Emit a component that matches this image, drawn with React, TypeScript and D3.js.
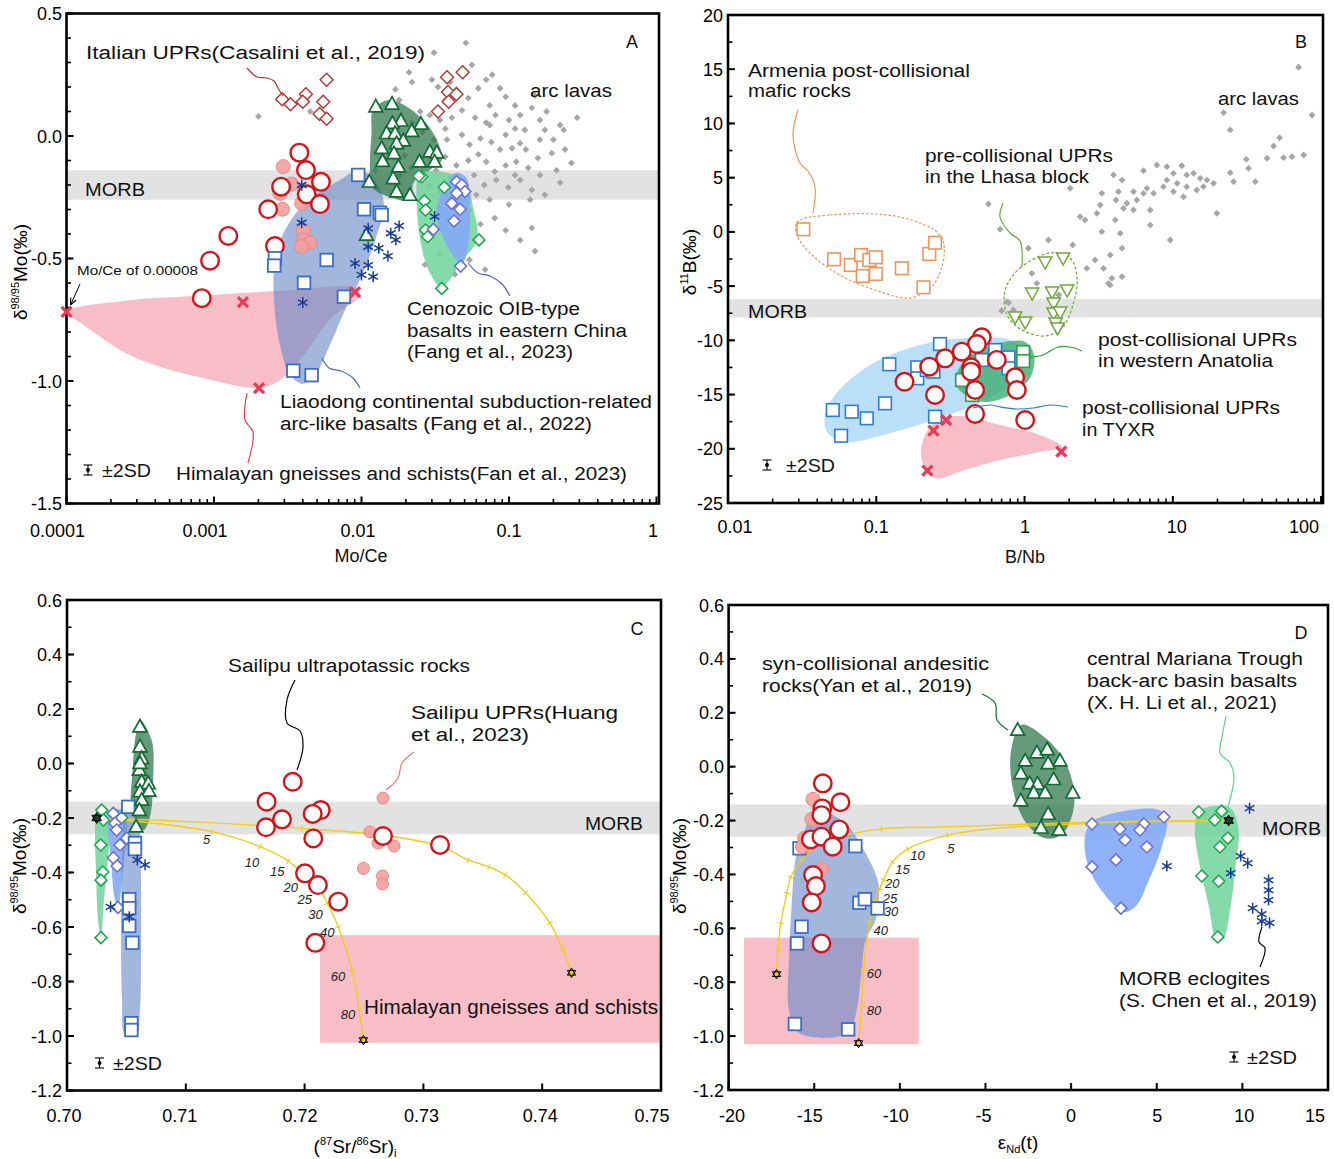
import React from 'react';
import * as d3 from 'd3';

type P = [number, number];
const FONT = "'Liberation Sans', Arimo, Arial, Helvetica, sans-serif";

// ================= Panel A : Mo/Ce vs δ98/95Mo =================
const morbMo: P = [-0.26, -0.14];
const aArcLavas: P[] = [[0.051,0.38],[0.031,0.34],[0.056,0.29],[0.077,0.25],[0.070,0.23],[0.021,0.26],[0.022,0.22],[0.030,0.23],[0.033,0.20],[0.040,0.22],[0.044,0.19],[0.053,0.155],[0.062,0.195],[0.087,0.195],[0.095,0.16],[0.119,0.085],[0.143,0.115],[0.162,0.065],[0.18,0.10],[0.29,0.075],[0.222,0.045],[0.175,0.025],[0.128,0.025],[0.10,0.065],[0.081,0.085],[0.07,0.055],[0.059,0.075],[0.048,0.105],[0.041,0.075],[0.037,0.03],[0.034,0.065],[0.029,0.085],[0.025,0.10],[0.022,0.055],[0.026,0.015],[0.031,-0.015],[0.038,-0.015],[0.048,0.005],[0.054,-0.035],[0.064,-0.01],[0.076,-0.025],[0.087,-0.055],[0.105,-0.05],[0.13,-0.055],[0.157,-0.09],[0.195,-0.07],[0.24,-0.055],[0.265,-0.11],[0.21,-0.14],[0.162,-0.16],[0.135,-0.13],[0.112,-0.105],[0.095,-0.12],[0.08,-0.145],[0.07,-0.105],[0.062,-0.075],[0.053,-0.10],[0.044,-0.12],[0.037,-0.085],[0.032,-0.14],[0.04,-0.17],[0.048,-0.19],[0.058,-0.16],[0.068,-0.20],[0.082,-0.18],[0.099,-0.21],[0.119,-0.18],[0.143,-0.22],[0.175,-0.24],[0.222,-0.19],[0.06,-0.24],[0.074,-0.26],[0.10,-0.28],[0.139,-0.26],[0.08,-0.335],[0.095,-0.385],[0.119,-0.425],[0.15,-0.47],[0.143,-0.375],[0.034,-0.485],[0.027,-0.525],[0.054,-0.505],[0.069,-0.545],[0.043,-0.565],[0.002,0.08],[0.0045,0.10],[0.0145,-0.10],[0.0124,-0.14],[0.018,0.147],[0.017,0.19],[0.037,0.147],[0.119,-0.03],[0.11,-0.16],[0.162,-0.015],[0.0196,-0.08],[0.0182,-0.16],[0.0218,-0.13],[0.029,-0.205],[0.034,-0.23],[0.041,-0.245],[0.054,-0.30],[0.064,-0.36],[0.074,0.045],[0.095,0.005],[0.11,0.03],[0.2,-0.015],[0.235,0.025],[0.11,0.125],[0.074,0.125],[0.15,0.165]];
const aItalian: P[] = [[0.0058,0.23],[0.0029,0.15],[0.0033,0.13],[0.0042,0.17],[0.0040,0.14],[0.0055,0.14],[0.0052,0.09],[0.0058,0.07],[0.0485,0.26],[0.038,0.24],[0.0386,0.18],[0.044,0.17],[0.039,0.14],[0.033,0.10]];
const aSailipu: P[] = [[0.00379,-0.068],[0.0042,-0.139],[0.00531,-0.187],[0.00285,-0.207],[0.00425,-0.238],[0.00523,-0.278],[0.00233,-0.299],[0.00259,-0.449],[0.00125,-0.408],[0.00094,-0.509],[0.000826,-0.662]];
const aSailipuHuang: P[] = [[0.00295,-0.125],[0.00336,-0.196],[0.0028,-0.234],[0.00291,-0.299],[0.00393,-0.275],[0.00404,-0.384],[0.00404,-0.424],[0.00448,-0.436],[0.00393,-0.452]];
const aLiaodong: P[] = [[0.0095,-0.159],[0.0104,-0.299],[0.0133,-0.313],[0.0137,-0.322],[0.00259,-0.499],[0.00256,-0.529],[0.00581,-0.506],[0.00408,-0.599],[0.00345,-0.958],[0.00459,-0.976],[0.0076,-0.656]];
const aLiaodongField: P[] = [[0.00714,-0.180],[0.00977,-0.139],[0.0129,-0.200],[0.0142,-0.282],[0.0124,-0.424],[0.0101,-0.567],[0.00773,-0.710],[0.00611,-0.853],[0.00484,-0.976],[0.00401,-1.012],[0.00328,-0.976],[0.0028,-0.853],[0.00255,-0.669],[0.00259,-0.506],[0.00303,-0.384],[0.00414,-0.273]];
const aHimalaya: P[] = [[0.0001,-0.718],[0.00157,-0.678],[0.00202,-1.029],[0.00904,-0.637]];
const aHimalayaField: P[] = [[0.0001,-0.718],[0.00025,-0.672],[0.0008,-0.652],[0.0028,-0.632],[0.0092,-0.620],[0.0098,-0.650],[0.0062,-0.745],[0.0040,-0.90],[0.0029,-0.99],[0.0021,-1.028],[0.0008,-0.985],[0.00028,-0.90],[0.00013,-0.77]];
const aSynColl: P[] = [[0.0125,0.120],[0.0161,0.131],[0.0185,0.062],[0.0162,0.052],[0.0253,0.049],[0.0219,0.020],[0.0148,0.011],[0.0169,0.011],[0.0192,-0.019],[0.0173,-0.030],[0.0137,-0.050],[0.0166,-0.071],[0.0291,-0.064],[0.0324,-0.068],[0.0139,-0.103],[0.0178,-0.125],[0.0247,-0.105],[0.0313,-0.105],[0.0164,-0.173],[0.0113,-0.187],[0.0173,-0.227],[0.0213,-0.241],[0.0108,-0.404]];
const aSynCollField: P[] = [[0.0120,0.106],[0.0155,0.147],[0.0251,0.078],[0.0324,-0.016],[0.0350,-0.098],[0.0291,-0.139],[0.0227,-0.188],[0.0213,-0.261],[0.0163,-0.253],[0.0117,-0.207],[0.0114,-0.125],[0.0117,0.012]];
const aMariana: P[] = [[0.0256,-0.166],[0.0245,-0.163],[0.0364,-0.209],[0.0267,-0.265],[0.0272,-0.302],[0.0272,-0.384],[0.0281,-0.411],[0.0626,-0.424],[0.035,-0.622]];
const aMarianaField: P[] = [[0.025,-0.151],[0.0357,-0.147],[0.0503,-0.180],[0.057,-0.290],[0.0607,-0.424],[0.0485,-0.506],[0.035,-0.616],[0.0291,-0.559],[0.025,-0.424],[0.0238,-0.180]];
const aOIB: P[] = [[0.0442,-0.187],[0.0478,-0.200],[0.0503,-0.227],[0.0442,-0.234],[0.0409,-0.275],[0.0466,-0.299],[0.0424,-0.347],[0.0307,-0.381],[0.047,-0.531]];
const aOIBField: P[] = [[0.0434,-0.151],[0.0515,-0.171],[0.0544,-0.314],[0.0527,-0.453],[0.0485,-0.518],[0.0442,-0.506],[0.034,-0.384],[0.0324,-0.290],[0.0368,-0.208]];
const aEclogite: P[] = [[0.0111,-0.377],[0.0158,-0.397],[0.0180,-0.367],[0.0171,-0.424],[0.0111,-0.452],[0.0131,-0.458],[0.0151,-0.490],[0.00904,-0.520],[0.0111,-0.527],[0.0100,-0.567],[0.0120,-0.574],[0.0313,-0.329],[0.00393,-0.200],[0.00393,-0.354],[0.0040,-0.680]];

// ================= Panel B : B/Nb vs δ11B =================
const morbB: P = [-7.9, -6.2];
const bArcLavas: P[] = [[70.5,15.18],[22.0,10.99],[86.9,10.78],[24.4,9.4],[52.5,8.68],[47.8,7.92],[76.2,7.09],[63.6,6.93],[55.8,6.84],[43.2,6.79],[31.3,6.69],[32.4,5.86],[24.4,5.46],[25.7,4.63],[36.0,4.63],[7.81,6.17],[9.12,6.01],[11.5,6.10],[6.34,5.64],[10.1,5.40],[12.4,5.25],[13.8,5.40],[15.3,4.94],[17.0,4.78],[18.8,4.48],[16.1,4.17],[14.5,3.86],[12.4,4.17],[10.7,4.48],[9.12,4.78],[8.65,4.17],[10.1,3.71],[11.8,3.24],[6.69,4.02],[5.43,3.71],[6.34,3.56],[7.41,3.56],[3.98,5.25],[4.54,4.78],[3.32,3.56],[4.30,3.71],[4.14,2.94],[4.90,2.64],[5.72,2.94],[7.04,2.02],[5.43,2.02],[4.65,2.17],[3.24,2.48],[3.07,1.71],[2.37,1.40],[2.56,1.10],[4.09,1.10],[4.42,-0.13],[3.32,0.02],[9.6,-0.75],[19.8,1.71],[7.04,0.63],[2.03,4.02],[1.45,-0.75],[1.06,-1.51],[2.11,-1.21],[2.99,-2.59],[3.78,-2.13],[4.54,-1.51],[2.63,-3.36],[3.41,-3.36],[3.88,-4.28],[4.54,-4.13],[3.78,-4.90],[1.12,-3.82],[0.57,2.57],[0.684,0.24],[1.21,-4.74],[1.70,-5.82],[0.76,-6.44],[0.84,-7.20],[3.68,-4.74],[0.78,-6.53],[0.70,-7.27]];
const bArmenia: P[] = [[0.0322,0.24],[0.0519,-2.53],[0.0673,-3.05],[0.0789,-2.13],[0.0898,-2.59],[0.0993,-2.34],[0.0810,-4.07],[0.0993,-3.88],[0.1486,-3.36],[0.228,-2.04],[0.249,-1.00],[0.208,-5.11]];
const bArmeniaField: P[] = [[0.0292,0.91],[0.0488,1.56],[0.1448,1.37],[0.269,-0.29],[0.287,-2.13],[0.242,-4.90],[0.169,-6.10],[0.0982,-5.36],[0.057,-3.98],[0.0357,-1.95],[0.0292,-0.29]];
const bLhasa: P[] = [[1.377,-2.78],[1.82,-2.41],[1.125,-5.64],[1.535,-5.54],[1.937,-5.36],[1.57,-6.56],[0.864,-7.85],[1.01,-8.31],[1.57,-7.48],[1.738,-7.39],[1.62,-8.40],[1.67,-8.86]];
const bLhasaField: P[] = [[0.74,-5.36],[0.933,-3.33],[1.489,-1.95],[2.03,-2.41],[2.26,-4.25],[2.12,-6.74],[1.79,-8.86],[1.377,-9.60],[0.964,-9.05],[0.763,-7.66]];
const bTyxr: P[] = [[0.269,-10.34],[0.1225,-12.21],[0.189,-12.49],[0.189,-13.50],[0.219,-12.74],[0.243,-12.89],[0.1146,-15.81],[0.0509,-16.43],[0.0683,-16.58],[0.0863,-17.19],[0.0579,-18.80],[0.249,-17.04],[0.515,-11.81],[0.634,-10.89],[0.779,-11.57],[0.779,-12.58]];
const bTyxrField: P[] = [[0.0451,-16.89],[0.0527,-15.04],[0.0908,-12.28],[0.197,-10.43],[0.429,-9.79],[0.8,-9.97],[1.01,-11.35],[0.864,-13.66],[0.542,-15.50],[0.269,-17.16],[0.124,-18.55],[0.0616,-19.38],[0.0466,-18.45]];
const bAnatolia: P[] = [[0.979,-11.08],[0.979,-11.91],[0.379,-13.66],[0.443,-15.04]];
const bAnatoliaField: P[] = [[0.356,-12.74],[0.464,-11.08],[0.684,-10.25],[1.01,-10.15],[1.16,-11.35],[1.09,-13.47],[0.8,-15.04],[0.542,-15.69],[0.397,-15.04],[0.34,-13.94]];
const bSailipu: P[] = [[0.515,-9.72],[0.477,-10.34],[0.377,-11.05],[0.291,-11.66],[0.228,-12.43],[0.436,-12.49],[0.436,-12.89],[0.650,-11.81],[0.155,-13.82],[0.464,-14.58],[0.249,-15.04],[0.464,-16.79],[0.864,-13.41],[0.887,-14.58],[1.01,-17.35]];
const bHimalayaField: P[] = [[0.207,-19.19],[0.249,-17.53],[0.367,-16.98],[0.684,-17.81],[1.27,-18.73],[1.79,-19.84],[1.27,-20.30],[0.684,-21.04],[0.397,-21.96],[0.249,-22.70],[0.204,-21.22]];
const bHimalaya: P[] = [[0.243,-18.33],[0.296,-17.35],[0.221,-22.02],[1.77,-20.27]];

// ================= Panel C : (87Sr/86Sr)i vs δ98/95Mo =================
const cHimalayaBox = { x: [0.7213, 0.75], y: [-1.025, -0.63] };
const cMarianaField: P[] = [[0.70253,-0.189],[0.70345,-0.171],[0.70362,-0.226],[0.70345,-0.354],[0.70311,-0.501],[0.70286,-0.640],[0.70261,-0.574],[0.70244,-0.391],[0.70236,-0.262]];
const cMariana: P[] = [[0.70292,-0.171],[0.70306,-0.207],[0.70284,-0.299],[0.70301,-0.398],[0.70286,-0.428],[0.70286,-0.639],[0.7046,-0.199]];
const cOIBField: P[] = [[0.70362,-0.178],[0.70488,-0.171],[0.70505,-0.244],[0.7048,-0.354],[0.70455,-0.464],[0.70429,-0.538],[0.70396,-0.483],[0.7037,-0.354],[0.70345,-0.244]];
const cOIB: P[] = [[0.7039,-0.183],[0.70404,-0.219],[0.70418,-0.244],[0.70503,-0.274],[0.70446,-0.299],[0.7039,-0.346],[0.70423,-0.376],[0.70429,-0.528]];
const cLiaodongField: P[] = [[0.7048,-0.152],[0.70581,-0.134],[0.70614,-0.244],[0.70623,-0.428],[0.70623,-0.684],[0.70614,-0.905],[0.70581,-0.996],[0.70488,-0.996],[0.70463,-0.868],[0.70455,-0.611],[0.70463,-0.354],[0.70471,-0.244]];
const cLiaodong: P[] = [[0.70516,-0.159],[0.70572,-0.292],[0.70572,-0.314],[0.70524,-0.498],[0.70524,-0.531],[0.70524,-0.596],[0.7055,-0.658],[0.70542,-0.953],[0.70542,-0.978]];
const cEclogite: P[] = [[0.70592,-0.354],[0.70657,-0.372],[0.70367,-0.526],[0.70524,-0.562]];
const cSynCollField: P[] = [[0.70614,0.160],[0.70713,0.086],[0.70726,-0.048],[0.70699,-0.195],[0.70642,-0.244],[0.70545,-0.171],[0.70553,-0.024],[0.70581,0.112]];
const cSynColl: P[] = [[0.70614,0.135],[0.70614,0.062],[0.70629,0.019],[0.70609,-0.024],[0.70629,-0.067],[0.70684,-0.073],[0.70614,-0.103],[0.7069,-0.101],[0.70629,-0.134],[0.70609,-0.171],[0.70581,-0.232],[0.70614,0.001]];
const cSailipu: P[] = [[0.719,-0.067],[0.7168,-0.140],[0.7181,-0.205],[0.72136,-0.171],[0.72068,-0.185],[0.71675,-0.234],[0.72073,-0.275],[0.72003,-0.403],[0.72112,-0.446],[0.72283,-0.507],[0.7209,-0.658],[0.7314,-0.299],[0.7266,-0.266]];
const cSailipuHuang: P[] = [[0.7266,-0.127],[0.7255,-0.251],[0.72618,-0.292],[0.72753,-0.303],[0.72495,-0.385],[0.72656,-0.413],[0.72656,-0.442]];
const cMix1: P[] = [[0.7025,-0.200],[0.7112,-0.215],[0.71976,-0.238],[0.72635,-0.262],[0.7314,-0.303],[0.73378,-0.354],[0.7355,-0.379],[0.73689,-0.409],[0.7386,-0.474],[0.74065,-0.586],[0.74174,-0.682],[0.74247,-0.768]];
const cMix1Ticks = [2, 5, 6, 7, 8, 9, 10];
const cMix2: P[] = [[0.7025,-0.200],[0.70699,-0.218],[0.71218,-0.250],[0.71625,-0.305],[0.71863,-0.358],[0.71992,-0.409],[0.72119,-0.458],[0.72192,-0.513],[0.72283,-0.599],[0.72399,-0.758],[0.72458,-0.901],[0.72495,-1.015]];
const cMix2Ticks = [2, 3, 4, 5, 6, 7, 8, 9, 10];
const mixLabels = ['5', '10', '15', '20', '25', '30', '40', '60', '80'];
const cEndStars: P[] = [[0.72495,-1.015],[0.74247,-0.768]];
const cMorbStar: P[] = [[0.7025,-0.200]];

// ================= Panel D : εNd(t) vs δ98/95Mo =================
const dHimalayaBox = { x: [-19.1, -8.9], y: [-1.03, -0.635] };
const dLiaodongField: P[] = [[-14.97,-0.161],[-13.22,-0.209],[-12.0,-0.321],[-11.24,-0.439],[-11.42,-0.569],[-12.0,-0.644],[-12.23,-0.755],[-12.52,-0.903],[-12.99,-0.985],[-14.44,-1.007],[-15.96,-0.985],[-16.48,-0.903],[-16.48,-0.718],[-16.31,-0.506],[-16.07,-0.335],[-15.55,-0.235]];
const dLiaodong: P[] = [[-15.86,-0.303],[-12.60,-0.295],[-15.74,-0.594],[-16.0,-0.656],[-12.36,-0.505],[-12.04,-0.492],[-11.30,-0.526],[-16.13,-0.955],[-13.02,-0.975]];
const dSailipu: P[] = [[-14.50,-0.062],[-13.47,-0.132],[-14.53,-0.155],[-14.58,-0.180],[-13.54,-0.233],[-15.20,-0.270],[-14.58,-0.260],[-13.92,-0.297],[-15.07,-0.402],[-14.90,-0.443],[-15.15,-0.504],[-14.58,-0.656]];
const dSailipuHuang: P[] = [[-15.07,-0.121],[-15.14,-0.195],[-15.56,-0.266],[-15.68,-0.297],[-14.58,-0.381]];
const dSynColl: P[] = [[-3.12,0.136],[-2.0,0.052],[-1.40,0.064],[-2.68,0.022],[-1.34,0.012],[-0.65,0.022],[-2.94,-0.025],[-2.42,-0.062],[-1.96,-0.064],[-1.02,-0.047],[-2.18,-0.097],[-1.51,-0.097],[0.09,-0.097],[-2.94,-0.126],[-1.34,-0.176],[-1.76,-0.227],[-0.70,-0.235]];
const dSynCollField: P[] = [[-2.91,0.155],[-1.57,0.110],[-0.41,0.025],[0.17,-0.087],[0.06,-0.180],[-0.58,-0.254],[-1.57,-0.265],[-2.74,-0.199],[-3.44,-0.068],[-3.50,0.062]];
const dOIBField: P[] = [[1.22,-0.205],[2.80,-0.168],[5.13,-0.161],[5.59,-0.198],[5.24,-0.309],[4.54,-0.421],[3.84,-0.513],[3.09,-0.539],[1.75,-0.458],[0.93,-0.354],[0.82,-0.254]];
const dOIB: P[] = [[1.22,-0.213],[2.85,-0.231],[4.25,-0.213],[4.02,-0.235],[3.15,-0.272],[4.42,-0.298],[5.42,-0.187],[1.22,-0.372],[2.62,-0.346],[2.91,-0.525]];
const dMarianaField: P[] = [[7.45,-0.168],[8.33,-0.146],[9.32,-0.154],[9.78,-0.235],[9.61,-0.365],[9.32,-0.514],[8.85,-0.644],[8.50,-0.644],[8.03,-0.514],[7.45,-0.347],[7.22,-0.235]];
const dMariana: P[] = [[7.45,-0.168],[8.79,-0.165],[8.39,-0.198],[9.15,-0.265],[8.69,-0.298],[7.63,-0.406],[8.62,-0.425],[8.56,-0.632]];
const dEclogite: P[] = [[10.42,-0.154],[5.59,-0.369],[9.90,-0.332],[10.31,-0.358],[9.32,-0.395],[11.53,-0.421],[11.53,-0.458],[11.53,-0.495],[10.6,-0.525],[11.13,-0.547],[11.13,-0.573],[11.59,-0.580]];
const dMixA: P[] = [[9.2,-0.20],[1.63,-0.205],[-4.19,-0.217],[-7.69,-0.224],[-11.07,-0.231],[-13.92,-0.268],[-15.03,-0.302],[-15.73,-0.347],[-16.37,-0.410],[-16.60,-0.469],[-16.95,-0.580],[-17.12,-0.681],[-17.20,-0.770]];
const dMixATicks = [4, 5, 6, 7, 8, 9, 10, 11];
const dMixB: P[] = [[9.2,-0.20],[1.63,-0.209],[-4.19,-0.228],[-7.22,-0.254],[-9.55,-0.306],[-10.43,-0.354],[-10.95,-0.42],[-11.19,-0.454],[-11.42,-0.495],[-11.77,-0.577],[-12.12,-0.755],[-12.23,-0.889],[-12.41,-1.026]];
const dMixBTicks = [3, 4, 5, 6, 7, 8, 9, 10, 11];
const dEndStars: P[] = [[-17.20,-0.770],[-12.41,-1.026]];
const dMorbStar: P[] = [[9.2,-0.20]];

// label offsets (px) of the mixing-percentage labels relative to their tick
const cMixLabelOff: P[] = [[-5,12],[-8,20],[-11,15],[-13,17.5],[-14,16],[-12,16],[-11,10.5],[-14,11],[-11,9.5]];
const dMixLabelOff: P[] = [[3.5,17.5],[10,10.5],[10,11.5],[8.6,8],[10.5,13.8],[15.5,16.2],[11.3,12.5],[10.4,7.8],[12.3,8.5]];

// ================= scales =================
const xA = d3.scaleLog().domain([1e-4, 1.04]).range([66.5, 659]);
const yA = d3.scaleLinear().domain([-1.5, 0.5]).range([503.5, 13.5]);
const xB = d3.scaleLog().domain([0.01, 103]).range([728, 1323]);
const yB = d3.scaleLinear().domain([-25, 20]).range([503, 15]);
const xC = d3.scaleLinear().domain([0.7, 0.75]).range([67, 661]);
const yC = d3.scaleLinear().domain([-1.2, 0.6]).range([1090.5, 600]);
const xD = d3.scaleLinear().domain([-20, 15]).range([728.6, 1328]);
const yD = d3.scaleLinear().domain([-1.2, 0.6]).range([1090, 605]);

const closed = d3.line<[number, number]>().curve(d3.curveCatmullRomClosed.alpha(0.5));
const open = d3.line<[number, number]>().curve(d3.curveCatmullRom.alpha(0.5));

// colours
const RED = '#d3141b';
const BLUE_SQ = '#3d6cc8';
const DK_GREEN = '#0f6b30';
const GREEN_D = '#1aa64a';
const LAV = '#6b6fd0';
const NAVY = '#173c9a';
const XRED = '#ec3a54';
const YEL = '#efcd1a';

function Region({ pts, sx, sy, fill, op = 1, stroke, dash, sw = 1 }: any) {
  const d = closed(pts.map((p: P) => [sx(p[0]), sy(p[1])] as [number, number])) || '';
  return <path d={d} fill={fill} fillOpacity={op} stroke={stroke || 'none'} strokeWidth={sw} strokeDasharray={dash} />;
}

function starPath(x: number, y: number, r: number) {
  const pt = (a: number) => `${x + r * Math.cos((a * Math.PI) / 180)},${y + r * Math.sin((a * Math.PI) / 180)}`;
  return `M${pt(-90)}L${pt(30)}L${pt(150)}ZM${pt(90)}L${pt(210)}L${pt(330)}Z`;
}

function Marks({ pts, sx, sy, kind, c = '#000', f = '#fff', s = 6, w = 1.6, fo = 1 }: any) {
  return (
    <g>
      {pts.map((p: P, i: number) => {
        const x = sx(p[0]);
        const y = sy(p[1]);
        switch (kind) {
          case 'circle':
            return <circle key={i} cx={x} cy={y} r={s} fill={f} fillOpacity={fo} stroke={c} strokeWidth={w} />;
          case 'square':
            return <rect key={i} x={x - s} y={y - s} width={2 * s} height={2 * s} fill={f} stroke={c} strokeWidth={w} />;
          case 'diamond':
            return <path key={i} d={`M${x},${y - s}L${x + s},${y}L${x},${y + s}L${x - s},${y}Z`} fill={f} fillOpacity={fo} stroke={c} strokeWidth={w} />;
          case 'tri':
            return <path key={i} d={`M${x},${y - s}L${x + s * 0.95},${y + s * 0.72}L${x - s * 0.95},${y + s * 0.72}Z`} fill={f} stroke={c} strokeWidth={w} />;
          case 'triDown':
            return <path key={i} d={`M${x},${y + s}L${x + s * 0.95},${y - s * 0.72}L${x - s * 0.95},${y - s * 0.72}Z`} fill={f} stroke={c} strokeWidth={w} />;
          case 'aster':
            return <path key={i} d={`M${x},${y - s}L${x},${y + s}M${x - s * 0.87},${y - s * 0.5}L${x + s * 0.87},${y + s * 0.5}M${x - s * 0.87},${y + s * 0.5}L${x + s * 0.87},${y - s * 0.5}`} stroke={c} strokeWidth={w} fill="none" />;
          case 'cross':
            return <path key={i} d={`M${x - s},${y - s}L${x + s},${y + s}M${x - s},${y + s}L${x + s},${y - s}`} stroke={c} strokeWidth={w} fill="none" />;
          case 'star':
            return <path key={i} d={starPath(x, y, s)} fill={f} stroke={c} strokeWidth={w} strokeLinejoin="round" />;
          default:
            return null;
        }
      })}
    </g>
  );
}

function MixCurve({ pts, sx, sy, ticks, labels, offs }: any) {
  const px: [number, number][] = pts.map((p: P) => [sx(p[0]), sy(p[1])]);
  return (
    <g>
      <path d={open(px) || ''} fill="none" stroke={YEL} strokeWidth={1.4} />
      {ticks.map((i: number, k: number) => {
        const a = px[i - 1], b = px[i + 1], c = px[i];
        const dx = b[0] - a[0], dy = b[1] - a[1];
        const L = Math.hypot(dx, dy) || 1;
        const nx = (-dy / L) * 3, ny = (dx / L) * 3;
        return <line key={k} x1={c[0] - nx} y1={c[1] - ny} x2={c[0] + nx} y2={c[1] + ny} stroke={YEL} strokeWidth={1.2} />;
      })}
      {labels &&
        labels.map((t: string, k: number) => {
          const c = px[ticks[k]];
          return (
            <text key={'l' + k} x={c[0] + offs[k][0]} y={c[1] + offs[k][1]} fontSize={13} fontStyle="italic" textAnchor="middle" fill="#222">
              {t}
            </text>
          );
        })}
    </g>
  );
}

function YAxis({ s, x, majors, minors, fmt, lx }: any) {
  return (
    <g>
      {minors.map((v: number, i: number) => (
        <line key={'n' + i} x1={x} x2={x + 4.5} y1={s(v)} y2={s(v)} stroke="#000" strokeWidth={1.6} />
      ))}
      {majors.map((v: number, i: number) => (
        <line key={'j' + i} x1={x} x2={x + 7} y1={s(v)} y2={s(v)} stroke="#000" strokeWidth={2} />
      ))}
      {majors.map((v: number, i: number) => (
        <text key={'t' + i} x={lx} y={s(v) + 6.5} textAnchor="end" fontSize={18}>
          {fmt(v)}
        </text>
      ))}
    </g>
  );
}

function XAxis({ s, y, majors, minors, labels, dx, ly }: any) {
  return (
    <g>
      {minors.map((v: number, i: number) => (
        <line key={'n' + i} x1={s(v)} x2={s(v)} y1={y} y2={y - 4.5} stroke="#000" strokeWidth={1.6} />
      ))}
      {majors.map((v: number, i: number) => (
        <line key={'j' + i} x1={s(v)} x2={s(v)} y1={y} y2={y - 7} stroke="#000" strokeWidth={2} />
      ))}
      {majors.map((v: number, i: number) => (
        <text key={'t' + i} x={s(v) + dx[i]} y={ly} textAnchor="middle" fontSize={18}>
          {labels[i]}
        </text>
      ))}
    </g>
  );
}

function Frame({ x0, x1, y0, y1 }: any) {
  return <rect x={x0} y={y0} width={x1 - x0} height={y1 - y0} fill="none" stroke="#000" strokeWidth={2.6} />;
}

function Band({ sy, band, x0, x1 }: any) {
  return <rect x={x0} width={x1 - x0} y={sy(band[1])} height={sy(band[0]) - sy(band[1])} fill="#e2e2e2" />;
}

function T({ x, y, w, s = 18, children, anchor = 'start', color = '#111' }: any) {
  return (
    <text x={x} y={y} fontSize={s} textAnchor={anchor} fill={color} textLength={w} lengthAdjust={w ? 'spacingAndGlyphs' : undefined}>
      {children}
    </text>
  );
}

function SD({ x, y }: any) {
  return (
    <g stroke="#000" strokeWidth={1.1}>
      <line x1={x} x2={x} y1={y - 5} y2={y + 5} />
      <line x1={x - 4.5} x2={x + 4.5} y1={y - 5} y2={y - 5} />
      <line x1={x - 4.5} x2={x + 4.5} y1={y + 5} y2={y + 5} />
      <circle cx={x} cy={y} r={1.4} fill="#000" />
    </g>
  );
}

function Leader({ pts, color, w = 1.2 }: any) {
  return <path d={open(pts) || ''} fill="none" stroke={color} strokeWidth={w} />;
}

function MoTitle({ x, y }: any) {
  return (
    <text transform={`translate(${x},${y}) rotate(-90)`} textAnchor="middle" fontSize={19}>
      δ<tspan fontSize={11} dy={-8}>98/95</tspan>
      <tspan dy={8}>Mo(‰)</tspan>
    </text>
  );
}

const logMinors = (decades: number[]) => decades.flatMap((d) => [2, 3, 4, 5, 6, 7, 8, 9].map((m) => d * m));
const tenth = (a: number, b: number) => d3.range(Math.round(a * 10), Math.round(b * 10) + 1).map((i) => i / 10);
const f1 = (v: number) => (Math.abs(v) < 1e-9 ? '0.0' : v.toFixed(1));

function PanelA() {
  const sx = xA, sy = yA;
  return (
    <g>
      <Band sy={sy} band={morbMo} x0={66.5} x1={659} />
      <Marks pts={aArcLavas} sx={sx} sy={sy} kind="diamond" s={3.4} f="#a6a6a6" c="none" w={0} />
      <Region pts={aHimalayaField} sx={sx} sy={sy} fill="#f5a3b0" op={0.7} />
      <Region pts={aLiaodongField} sx={sx} sy={sy} fill="#6a8ac8" op={0.62} />
      <Region pts={aSynCollField} sx={sx} sy={sy} fill="#2a7548" op={0.72} />
      <Region pts={aMarianaField} sx={sx} sy={sy} fill="#6fd39a" op={0.85} />
      <Region pts={aOIBField} sx={sx} sy={sy} fill="#86aaf6" op={0.92} />
      <Frame x0={66.5} x1={659} y0={13.5} y1={503.5} />
      <YAxis s={sy} x={66.5} majors={[-1.5, -1, -0.5, 0, 0.5]} minors={tenth(-1.5, 0.5)} fmt={f1} lx={62} />
      <XAxis s={sx} y={503.5} majors={[1e-4, 1e-3, 1e-2, 1e-1, 1]} minors={logMinors([1e-4, 1e-3, 1e-2, 1e-1])} labels={['0.0001', '0.001', '0.01', '0.1', '1']} dx={[-9, -9, -3.5, 0, -3.5]} ly={537} />
      <Marks pts={aItalian} sx={sx} sy={sy} kind="diamond" s={6.5} c="#b5332e" w={1.4} />
      <Marks pts={aSailipuHuang} sx={sx} sy={sy} kind="circle" s={7} f="#f3a0a0" c="#ec8585" w={1} fo={0.9} />
      <Marks pts={aSailipu} sx={sx} sy={sy} kind="circle" s={8.8} c={RED} w={2.4} />
      <Marks pts={aLiaodong} sx={sx} sy={sy} kind="square" s={6.3} c={BLUE_SQ} w={1.8} />
      <Marks pts={aSynColl} sx={sx} sy={sy} kind="tri" s={7.2} c={DK_GREEN} w={1.7} />
      <Marks pts={aEclogite} sx={sx} sy={sy} kind="aster" s={5.5} c={NAVY} w={1.5} />
      <Marks pts={aMariana} sx={sx} sy={sy} kind="diamond" s={6} c={GREEN_D} w={1.5} />
      <Marks pts={aOIB} sx={sx} sy={sy} kind="diamond" s={6} c={LAV} w={1.5} />
      <Marks pts={aHimalaya} sx={sx} sy={sy} kind="cross" s={5} c={XRED} w={3.3} />
      <Leader pts={[[247, 68], [257, 77], [267, 78], [274, 81], [278, 88], [283, 96]]} color="#b5332e" />
      <Leader pts={[[468, 263], [478, 273], [490, 276], [502, 284], [510, 296]]} color="#5060c8" />
      <Leader pts={[[322, 358], [329, 368], [341, 371], [353, 378], [360, 388]]} color={BLUE_SQ} />
      <Leader pts={[[247, 393], [245, 420], [253, 432], [248, 463]]} color={XRED} />
      <line x1={80} y1={284} x2={70.5} y2={305} stroke="#000" strokeWidth={1} />
      <path d="M70.5,305 L70.8,297.5 M70.5,305 L76,300" stroke="#000" strokeWidth={1.1} fill="none" />
      <T x={86} y={58.5} w={339}>Italian UPRs(Casalini et al., 2019)</T>
      <T x={530} y={96.5} w={82}>arc lavas</T>
      <T x={632} y={48} anchor="middle">A</T>
      <T x={85} y={196} w={60}>MORB</T>
      <T x={77} y={275} s={13} w={121}>Mo/Ce of 0.00008</T>
      <T x={407} y={315} w={173}>Cenozoic OIB-type</T>
      <T x={407} y={336.5} w={220}>basalts in eastern China</T>
      <T x={407} y={358} w={166}>(Fang et al., 2023)</T>
      <T x={280} y={408} w={372}>Liaodong continental subduction-related</T>
      <T x={280} y={430} w={312}>arc-like basalts (Fang et al., 2022)</T>
      <T x={176} y={480} w={451}>Himalayan gneisses and schists(Fan et al., 2023)</T>
      <SD x={88} y={470} />
      <T x={102} y={476.5} w={49}>±2SD</T>
      <T x={361} y={562} anchor="middle" s={18}>Mo/Ce</T>
      <MoTitle x={27} y={272} />
    </g>
  );
}

function PanelB() {
  const sx = xB, sy = yB;
  return (
    <g>
      <Band sy={sy} band={morbB} x0={728} x1={1323} />
      <Marks pts={bArcLavas} sx={sx} sy={sy} kind="diamond" s={3.4} f="#a6a6a6" c="none" w={0} />
      <Region pts={bArmeniaField} sx={sx} sy={sy} fill="none" stroke="#f2935a" dash="2.5,2" sw={1.2} />
      <Region pts={bLhasaField} sx={sx} sy={sy} fill="none" stroke="#6ea83a" dash="3,2" sw={1.2} />
      <Region pts={bTyxrField} sx={sx} sy={sy} fill="#b9dff9" op={1} />
      <Region pts={bAnatoliaField} sx={sx} sy={sy} fill="#3fae76" op={0.8} />
      <Region pts={bHimalayaField} sx={sx} sy={sy} fill="#f5a3b0" op={0.7} />
      <Frame x0={728} x1={1323} y0={15} y1={503} />
      <YAxis s={sy} x={728} majors={d3.range(-25, 21, 5)} minors={d3.range(-25, 20.1, 2.5)} fmt={(v: number) => String(v)} lx={723} />
      <XAxis s={sx} y={503} majors={[0.01, 0.1, 1, 10, 100]} minors={logMinors([0.01, 0.1, 1, 10])} labels={['0.01', '0.1', '1', '10', '100']} dx={[7, 0, 0.5, 4, -17]} ly={533} />
      <Marks pts={bArmenia} sx={sx} sy={sy} kind="square" s={6.3} c="#f2935a" w={1.6} />
      <Marks pts={bLhasa} sx={sx} sy={sy} kind="triDown" s={7} c="#6ea83a" w={1.5} />
      <Marks pts={bTyxr} sx={sx} sy={sy} kind="square" s={6.3} c="#2b7bd8" w={1.6} />
      <Marks pts={bAnatolia} sx={sx} sy={sy} kind="square" s={6.3} c="#2e9e3e" w={1.6} />
      <Marks pts={bSailipu} sx={sx} sy={sy} kind="circle" s={8.8} c={RED} w={2.4} />
      <Marks pts={bHimalaya} sx={sx} sy={sy} kind="cross" s={5} c={XRED} w={3.3} />
      <Leader pts={[[798, 110], [793, 135], [800, 163], [808, 171], [815, 187], [813, 213]]} color="#f2935a" />
      <Leader pts={[[1003, 203], [1000, 217], [1010, 233], [1020, 241], [1022, 266]]} color="#6ea83a" />
      <Leader pts={[[1030, 357], [1043, 355], [1058, 347], [1070, 347], [1082, 351]]} color="#2e9e3e" />
      <Leader pts={[[973, 408], [990, 405], [1000, 407], [1017, 409], [1033, 408], [1050, 405], [1068, 407]]} color="#2b7bd8" />
      <T x={748} y={76.5} w={222}>Armenia post-collisional</T>
      <T x={748} y={97} w={103}>mafic rocks</T>
      <T x={925} y={161.5} w={188}>pre-collisional UPRs</T>
      <T x={925} y={182.5} w={164}>in the Lhasa block</T>
      <T x={1218} y={105} w={81}>arc lavas</T>
      <T x={1301} y={48} anchor="middle">B</T>
      <T x={748} y={318} w={59}>MORB</T>
      <T x={1098} y={346} w={199}>post-collisional UPRs</T>
      <T x={1098} y={366.5} w={175}>in western Anatolia</T>
      <T x={1082} y={414} w={198}>post-collisional UPRs</T>
      <T x={1082} y={436} w={73}>in TYXR</T>
      <SD x={767} y={465} />
      <T x={786} y={471.5} w={49}>±2SD</T>
      <T x={1025} y={563} anchor="middle">B/Nb</T>
      <text transform="translate(696,262) rotate(-90)" textAnchor="middle" fontSize={19}>
        δ<tspan fontSize={11} dy={-8}>11</tspan>
        <tspan dy={8}>B(‰)</tspan>
      </text>
    </g>
  );
}

function PanelC() {
  const sx = xC, sy = yC;
  return (
    <g>
      <Band sy={sy} band={morbMo} x0={67} x1={661} />
      <rect x={sx(cHimalayaBox.x[0])} width={sx(cHimalayaBox.x[1]) - sx(cHimalayaBox.x[0])} y={sy(cHimalayaBox.y[1])} height={sy(cHimalayaBox.y[0]) - sy(cHimalayaBox.y[1])} fill="#f5a3b0" fillOpacity={0.7} />
      <Region pts={cMarianaField} sx={sx} sy={sy} fill="#6fd39a" op={0.85} />
      <Region pts={cOIBField} sx={sx} sy={sy} fill="#86aaf6" op={0.92} />
      <Region pts={cLiaodongField} sx={sx} sy={sy} fill="#6a8ac8" op={0.62} />
      <Region pts={cSynCollField} sx={sx} sy={sy} fill="#2a7548" op={0.72} />
      <Frame x0={67} x1={661} y0={600} y1={1090.5} />
      <YAxis s={sy} x={67} majors={d3.range(-6, 4).map((i) => i / 5)} minors={tenth(-1.2, 0.6)} fmt={f1} lx={62} />
      <XAxis s={sx} y={1090.5} majors={d3.range(0, 6).map((i) => 0.7 + i / 100)} minors={[]} labels={['0.70', '0.71', '0.72', '0.73', '0.74', '0.75']} dx={[-3, -6, -4.5, -2, -2, -9]} ly={1122} />
      <MixCurve pts={cMix1} sx={sx} sy={sy} ticks={cMix1Ticks} />
      <MixCurve pts={cMix2} sx={sx} sy={sy} ticks={cMix2Ticks} labels={mixLabels} offs={cMixLabelOff} />
      <Marks pts={cMariana} sx={sx} sy={sy} kind="diamond" s={6} c={GREEN_D} w={1.5} />
      <Marks pts={cOIB} sx={sx} sy={sy} kind="diamond" s={6} c={LAV} w={1.5} />
      <Marks pts={cLiaodong} sx={sx} sy={sy} kind="square" s={6.3} c={BLUE_SQ} w={1.8} />
      <Marks pts={cEclogite} sx={sx} sy={sy} kind="aster" s={5.5} c={NAVY} w={1.5} />
      <Marks pts={cSynColl} sx={sx} sy={sy} kind="tri" s={7.2} c={DK_GREEN} w={1.7} />
      <Marks pts={cSailipuHuang} sx={sx} sy={sy} kind="circle" s={6} f="#f3a0a0" c="#ec8585" w={1} fo={0.9} />
      <Marks pts={cSailipu} sx={sx} sy={sy} kind="circle" s={8.8} c={RED} w={2.4} />
      <Marks pts={cEndStars} sx={sx} sy={sy} kind="star" s={4.8} f={YEL} c="#000" w={1} />
      <Marks pts={cMorbStar} sx={sx} sy={sy} kind="star" s={5.5} f="#0b4d2a" c="#000" w={1} />
      <Leader pts={[[295, 680], [287, 700], [287, 723], [300, 731], [303, 747], [297, 770]]} color="#000" />
      <Leader pts={[[414, 752], [402, 763], [398, 778], [386, 790]]} color="#ee7777" />
      <T x={637} y={634.5} anchor="middle">C</T>
      <T x={228} y={671.5} w={242}>Sailipu ultrapotassic rocks</T>
      <T x={411} y={718.5} w={207}>Sailipu UPRs(Huang</T>
      <T x={411} y={740.5} w={118}>et al., 2023)</T>
      <T x={585} y={829.5} w={58}>MORB</T>
      <T x={364} y={1013.5} w={294} s={20}>Himalayan gneisses and schists</T>
      <SD x={99.5} y={1063} />
      <T x={113} y={1069.5} w={49}>±2SD</T>
      <text x={355} y={1153} textAnchor="middle" fontSize={19}>
        (<tspan fontSize={11} dy={-8}>87</tspan>
        <tspan dy={8}>Sr/</tspan>
        <tspan fontSize={11} dy={-8}>86</tspan>
        <tspan dy={8}>Sr)</tspan>
        <tspan fontSize={11} dy={4}>i</tspan>
      </text>
      <MoTitle x={26} y={866} />
    </g>
  );
}

function PanelD() {
  const sx = xD, sy = yD;
  return (
    <g>
      <Band sy={sy} band={morbMo} x0={728.6} x1={1328} />
      <rect x={sx(dHimalayaBox.x[0])} width={sx(dHimalayaBox.x[1]) - sx(dHimalayaBox.x[0])} y={sy(dHimalayaBox.y[1])} height={sy(dHimalayaBox.y[0]) - sy(dHimalayaBox.y[1])} fill="#f5a3b0" fillOpacity={0.7} />
      <Region pts={dLiaodongField} sx={sx} sy={sy} fill="#6a8ac8" op={0.62} />
      <Region pts={dSynCollField} sx={sx} sy={sy} fill="#2a7548" op={0.72} />
      <Region pts={dOIBField} sx={sx} sy={sy} fill="#86aaf6" op={0.92} />
      <Region pts={dMarianaField} sx={sx} sy={sy} fill="#6fd39a" op={0.85} />
      <Frame x0={728.6} x1={1328} y0={605} y1={1090} />
      <YAxis s={sy} x={728.6} majors={d3.range(-6, 4).map((i) => i / 5)} minors={tenth(-1.2, 0.6)} fmt={f1} lx={724} />
      <XAxis s={sx} y={1090} majors={d3.range(-20, 16, 5)} minors={[]} labels={['-20', '-15', '-10', '-5', '0', '5', '10', '15']} dx={[3.5, -4.5, -4, -2, 0, 0.5, 2, -13]} ly={1122} />
      <MixCurve pts={dMixA} sx={sx} sy={sy} ticks={dMixATicks} />
      <MixCurve pts={dMixB} sx={sx} sy={sy} ticks={dMixBTicks} labels={mixLabels} offs={dMixLabelOff} />
      <Marks pts={dLiaodong} sx={sx} sy={sy} kind="square" s={6.3} c={BLUE_SQ} w={1.8} />
      <Marks pts={dSailipuHuang} sx={sx} sy={sy} kind="circle" s={7} f="#f3a0a0" c="#ec8585" w={1} fo={0.9} />
      <Marks pts={dSailipu} sx={sx} sy={sy} kind="circle" s={8.8} c={RED} w={2.4} />
      <Marks pts={dSynColl} sx={sx} sy={sy} kind="tri" s={7.2} c={DK_GREEN} w={1.7} />
      <Marks pts={dOIB} sx={sx} sy={sy} kind="diamond" s={6} c={LAV} w={1.5} />
      <Marks pts={dMariana} sx={sx} sy={sy} kind="diamond" s={6} c={GREEN_D} w={1.5} />
      <Marks pts={dEclogite} sx={sx} sy={sy} kind="aster" s={5.5} c={NAVY} w={1.5} />
      <Marks pts={dEndStars} sx={sx} sy={sy} kind="star" s={4.8} f={YEL} c="#000" w={1} />
      <Marks pts={dMorbStar} sx={sx} sy={sy} kind="star" s={5.5} f="#0b4d2a" c="#000" w={1} />
      <Leader pts={[[982, 694], [995, 703], [997, 720], [1008, 730]]} color={DK_GREEN} />
      <Leader pts={[[1226, 716], [1222, 737], [1220, 753], [1230, 763], [1234, 777], [1228, 807]]} color="#5fd08e" />
      <Leader pts={[[1262, 927], [1259, 942], [1265, 948], [1260, 967]]} color="#000" />
      <T x={1301} y={638.5} anchor="middle">D</T>
      <T x={762} y={670} w={227}>syn-collisional andesitic</T>
      <T x={762} y={691.5} w={210}>rocks(Yan et al., 2019)</T>
      <T x={1087} y={665} w={216}>central Mariana Trough</T>
      <T x={1087} y={686.5} w={210}>back-arc basin basalts</T>
      <T x={1087} y={709} w={190}>(X. H. Li et al., 2021)</T>
      <T x={1262} y={835} w={59}>MORB</T>
      <T x={1119} y={985} w={151}>MORB eclogites</T>
      <T x={1119} y={1006.5} w={198}>(S. Chen et al., 2019)</T>
      <SD x={1234} y={1057} />
      <T x={1247} y={1063.5} w={50}>±2SD</T>
      <text x={1018} y={1149} textAnchor="middle" fontSize={19}>
        ε<tspan fontSize={11} dy={4}>Nd</tspan>
        <tspan dy={-4}>(t)</tspan>
      </text>
      <MoTitle x={686} y={866} />
    </g>
  );
}

export default function App() {
  return (
    <div style={{ position: 'absolute', left: 0, top: 0 }}>
      <svg width={1334} height={1159} viewBox="0 0 1334 1159" style={{ display: 'block', fontFamily: FONT }}>
        <rect x={0} y={0} width={1334} height={1159} fill="#fff" />
        <PanelA />
        <PanelB />
        <PanelC />
        <PanelD />
      </svg>
    </div>
  );
}
